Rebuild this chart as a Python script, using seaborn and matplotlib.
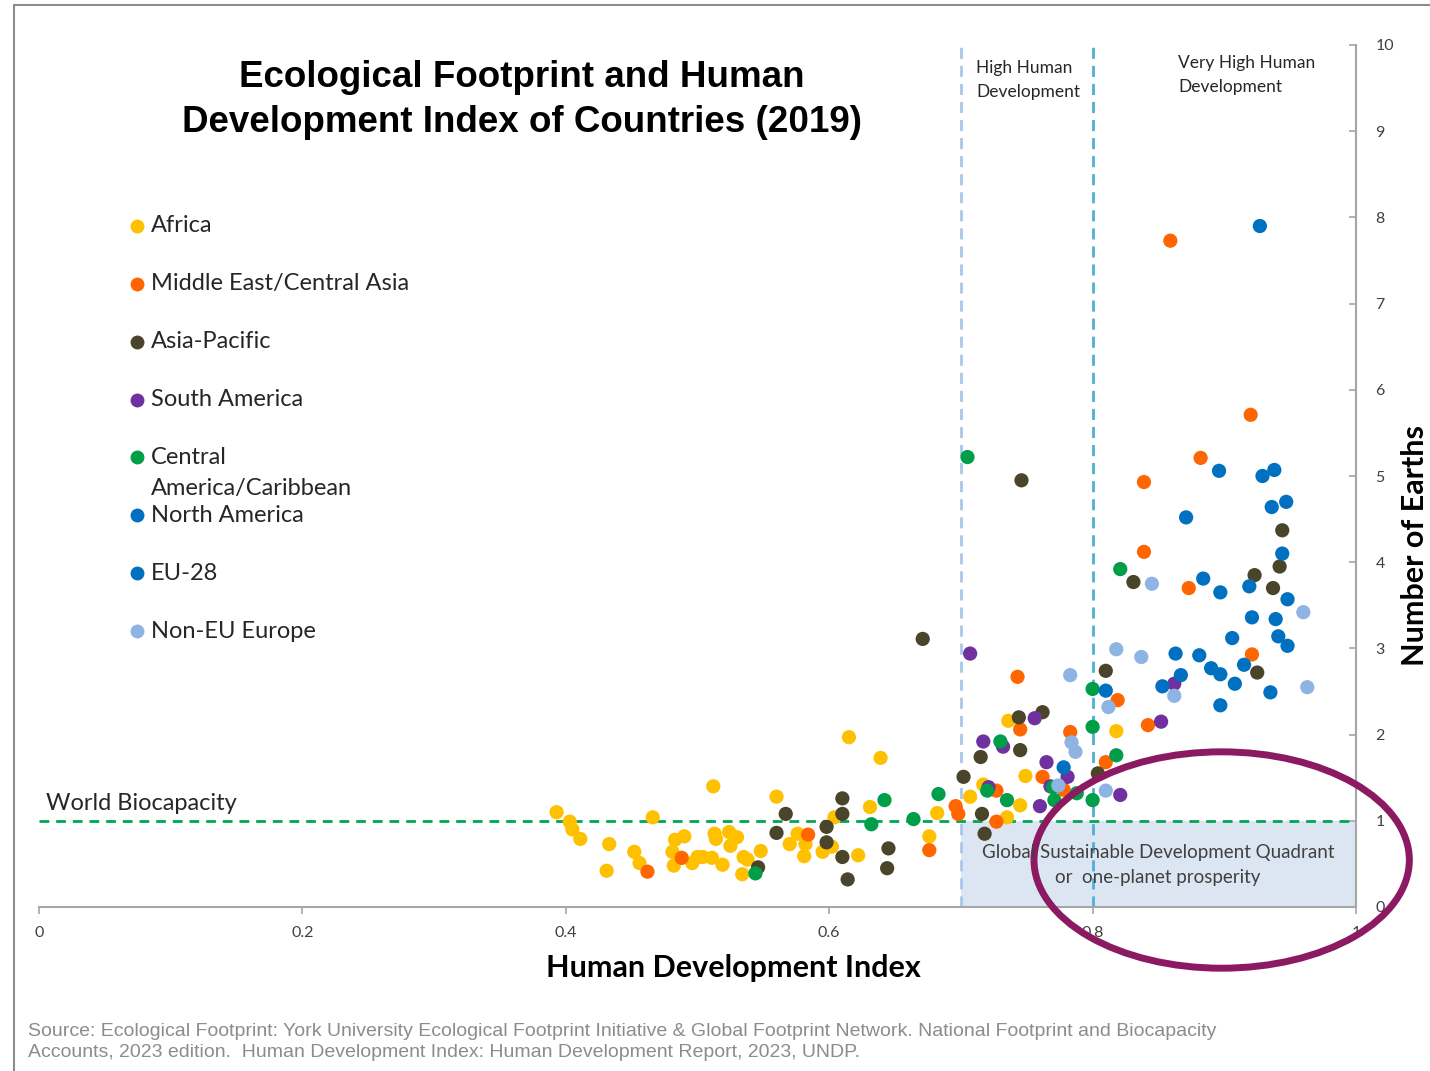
import numpy as np
import pandas as pd
import matplotlib
matplotlib.use("Agg")
import matplotlib.pyplot as plt
import seaborn as sns
from matplotlib.patches import Ellipse, Rectangle
from matplotlib.lines import Line2D
from matplotlib import font_manager

# ---- data: Human Development Index vs. number of Earths, by region ----
africa_hdi = [0.393, 0.403, 0.405, 0.411, 0.433, 0.431, 0.466, 0.452, 0.456, 0.512,
              0.483, 0.490, 0.481, 0.482, 0.496, 0.500, 0.504, 0.511, 0.519, 0.513,
              0.514, 0.524, 0.530, 0.525, 0.535, 0.538, 0.548, 0.534, 0.560, 0.576,
              0.570, 0.582, 0.581, 0.595, 0.602, 0.604, 0.615, 0.639, 0.631, 0.622,
              0.682, 0.676, 0.707, 0.736, 0.749, 0.717, 0.745, 0.735, 0.818]
africa_earths = [1.10, 0.99, 0.90, 0.79, 0.73, 0.42, 1.04, 0.64, 0.51, 1.40,
                 0.78, 0.82, 0.64, 0.48, 0.51, 0.58, 0.58, 0.57, 0.49, 0.85,
                 0.79, 0.87, 0.81, 0.71, 0.58, 0.55, 0.65, 0.38, 1.28, 0.85,
                 0.73, 0.73, 0.59, 0.64, 0.70, 1.04, 1.97, 1.73, 1.16, 0.60,
                 1.09, 0.82, 1.28, 2.16, 1.52, 1.42, 1.18, 1.04, 2.04]

mideast_hdi = [0.488, 0.462, 0.584, 0.676, 0.696, 0.698, 0.743, 0.745, 0.727, 0.727,
               0.762, 0.783, 0.778, 0.819, 0.810, 0.842, 0.921, 0.920, 0.882, 0.839,
               0.839, 0.873, 0.859]
mideast_earths = [0.57, 0.41, 0.84, 0.66, 1.17, 1.08, 2.67, 2.06, 1.35, 0.99,
                  1.51, 2.03, 1.36, 2.40, 1.68, 2.11, 2.93, 5.71, 5.21, 4.93,
                  4.12, 3.70, 7.73]

asiapac_hdi = [0.546, 0.560, 0.567, 0.598, 0.598, 0.610, 0.610, 0.610, 0.614, 0.645,
               0.644, 0.671, 0.746, 0.702, 0.715, 0.744, 0.762, 0.745, 0.716, 0.718,
               0.804, 0.810, 0.925, 0.944, 0.942, 0.923, 0.937, 0.831]
asiapac_earths = [0.46, 0.86, 1.08, 0.93, 0.75, 1.26, 1.08, 0.58, 0.32, 0.68,
                  0.45, 3.11, 4.95, 1.51, 1.74, 2.20, 2.26, 1.82, 1.08, 0.85,
                  1.55, 2.74, 2.72, 4.37, 3.95, 3.85, 3.70, 3.77]

southam_hdi = [0.707, 0.756, 0.717, 0.732, 0.765, 0.781, 0.721, 0.768, 0.760, 0.821,
               0.852, 0.862]
southam_earths = [2.94, 2.19, 1.92, 1.86, 1.68, 1.51, 1.39, 1.40, 1.17, 1.30,
                  2.15, 2.59]

centam_hdi = [0.544, 0.642, 0.632, 0.664, 0.683, 0.705, 0.730, 0.720, 0.735, 0.770,
              0.771, 0.800, 0.800, 0.818, 0.800, 0.788, 0.821]
centam_earths = [0.39, 1.24, 0.96, 1.02, 1.31, 5.22, 1.92, 1.35, 1.24, 1.39,
                 1.24, 2.53, 2.09, 1.76, 1.24, 1.32, 3.92]

northam_hdi = [0.929, 0.938]
northam_earths = [5.00, 5.07]

eu_hdi = [0.927, 0.896, 0.936, 0.947, 0.871, 0.944, 0.884, 0.897, 0.919, 0.948,
          0.921, 0.939, 0.906, 0.941, 0.948, 0.863, 0.881, 0.890, 0.897, 0.915,
          0.908, 0.867, 0.853, 0.935, 0.897, 0.810, 0.778]
eu_earths = [7.90, 5.06, 4.64, 4.70, 4.52, 4.10, 3.81, 3.65, 3.72, 3.57,
             3.36, 3.34, 3.12, 3.14, 3.03, 2.94, 2.92, 2.77, 2.70, 2.81,
             2.59, 2.69, 2.56, 2.49, 2.34, 2.51, 1.62]

noneu_hdi = [0.783, 0.818, 0.837, 0.845, 0.960, 0.963, 0.812, 0.862, 0.784, 0.787,
             0.774, 0.810]
noneu_earths = [2.69, 2.99, 2.90, 3.75, 3.42, 2.55, 2.32, 2.45, 1.91, 1.80,
                1.41, 1.35]

region_names = ["Africa", "Middle East/Central Asia", "Asia-Pacific", "South America",
                "Central America/Caribbean", "North America", "EU-28", "Non-EU Europe"]
legend_labels = ["Africa", "Middle East/Central Asia", "Asia-Pacific", "South America",
                 "Central\nAmerica/Caribbean", "North America", "EU-28", "Non-EU Europe"]
region_colors = ["#FFC000", "#FF6600", "#4A452A", "#7030A0",
                 "#009E49", "#0070C0", "#0070C0", "#8EB4E3"]

x_ticks = [0, 0.2, 0.4, 0.6, 0.8, 1]
x_tick_labels = ["0", "0.2", "0.4", "0.6", "0.8", "1"]
y_ticks = list(range(0, 11))

world_biocapacity = 1
high_hdi = 0.7
very_high_hdi = 0.8

series = [(africa_hdi, africa_earths), (mideast_hdi, mideast_earths),
          (asiapac_hdi, asiapac_earths), (southam_hdi, southam_earths),
          (centam_hdi, centam_earths), (northam_hdi, northam_earths),
          (eu_hdi, eu_earths), (noneu_hdi, noneu_earths)]

df = pd.concat([pd.DataFrame({"hdi": h, "earths": e, "region": name})
                for (h, e), name in zip(series, region_names)], ignore_index=True)

# ---- styling ----
sns.set_theme(style="white")
plt.rcParams["font.family"] = ["Lato", "DejaVu Sans"]

W, H = 1430, 1071
fig = plt.figure(figsize=(W / 100, H / 100), dpi=100)
ax = fig.add_axes([39 / W, 164 / H, 1317 / W, 862 / H])
ax.set_xlim(0, 1)
ax.set_ylim(0, 10)

# sustainable development quadrant
ax.add_patch(Rectangle((high_hdi, 0), 1 - high_hdi, world_biocapacity,
                       facecolor="#DCE6F2", edgecolor="none", zorder=0))
ax.axhline(world_biocapacity, color="#00A651", lw=2, ls=(0, (3.5, 2.5)), zorder=1)
ax.axvline(high_hdi, color="#A9C8E8", lw=2, ls=(0, (4, 2.5)), zorder=1)
ax.axvline(very_high_hdi, color="#4FB0D3", lw=2, ls=(0, (4, 2.5)), zorder=1)

sns.scatterplot(data=df, x="hdi", y="earths", hue="region", hue_order=region_names,
                palette=dict(zip(region_names, region_colors)), s=105, linewidth=0,
                legend=False, ax=ax, zorder=3)

# axes: y on the right, x at the bottom
ax.yaxis.tick_right()
ax.yaxis.set_label_position("right")
for side in ["top", "left"]:
    ax.spines[side].set_visible(False)
for side in ["right", "bottom"]:
    ax.spines[side].set_visible(True)
    ax.spines[side].set_color("#A6A6A6")
    ax.spines[side].set_linewidth(1.5)
ax.set_xticks(x_ticks)
ax.set_xticklabels(x_tick_labels)
ax.set_yticks(y_ticks)
ax.tick_params(axis="x", direction="out", length=5, width=1.2, color="#A6A6A6",
               labelsize=11.5, labelcolor="#404040", pad=9, bottom=True)
ax.tick_params(axis="y", direction="in", length=5, width=1.2, color="#A6A6A6",
               labelsize=11.5, labelcolor="#404040", pad=14, right=True, left=False)
ax.grid(False)
ax.set_xlabel("Human Development Index", fontsize=22, fontweight="bold", color="black")
ax.xaxis.set_label_coords((733 - 39) / 1317, -(968 - 907) / 862)
ax.xaxis.label.set_va("center")
ax.set_ylabel("Number of Earths", fontsize=22, fontweight="bold", color="black",
              rotation=90)
ax.yaxis.set_label_coords((1415 - 39) / 1317, (907 - 546) / 862)
ax.yaxis.label.set_va("center")

# annotations
ax.text(0.005, world_biocapacity + 0.08, "World Biocapacity", fontsize=17,
        color="#262626", va="bottom", ha="left")
fig.text(976 / W, 1 - 80 / H, "High Human\nDevelopment", fontsize=12.5,
         color="#262626", ha="left", va="center", linespacing=1.55)
fig.text(1178 / W, 1 - 75 / H, "Very High Human\nDevelopment", fontsize=12.5,
         color="#262626", ha="left", va="center", linespacing=1.55)
fig.text(1158 / W, 1 - 865 / H, "Global Sustainable Development Quadrant\nor  one-planet prosperity",
         fontsize=13.5, color="#404040", ha="center", va="center", linespacing=1.55)

ax.add_patch(Ellipse((0.898, 0.545), 0.285, 2.51, facecolor="none",
                     edgecolor="#8B1A62", lw=5, clip_on=False, zorder=5))

# title
fig.text(522 / W, 1 - 100 / H,
         "Ecological Footprint and Human\nDevelopment Index of Countries (2019)",
         fontsize=26.5, fontweight="bold", family=["Liberation Sans", "DejaVu Sans"],
         ha="center", va="center", linespacing=1.39, color="black")

# legend
legend_y = [226, 284, 342, 400, 457, 515, 573, 631]
for lab, col, y in zip(legend_labels, region_colors, legend_y):
    fig.add_artist(Line2D([137 / W], [1 - y / H], marker="o", markersize=10,
                          color=col, markeredgewidth=0, linestyle="none"))
    for i, part in enumerate(lab.split("\n")):
        fig.text(151 / W, 1 - (y + 32 * i) / H, part, fontsize=17, color="#262626",
                 ha="left", va="center")

# source note
fig.text(28 / W, 1 - 1042 / H,
         "Source: Ecological Footprint: York University Ecological Footprint Initiative & Global Footprint Network. National Footprint and Biocapacity\n"
         "Accounts, 2023 edition.  Human Development Index: Human Development Report, 2023, UNDP.",
         fontsize=14, color="#8C8C8C", family=["Liberation Sans", "DejaVu Sans"],
         ha="left", va="center", linespacing=1.35)

# outer frame
fig.add_artist(Line2D([14 / W, 1], [1 - 5 / H, 1 - 5 / H], color="#8C8C8C", lw=1.5))
fig.add_artist(Line2D([14 / W, 14 / W], [0, 1 - 5 / H], color="#8C8C8C", lw=1.5))

fig.savefig("out.png", dpi=100)
